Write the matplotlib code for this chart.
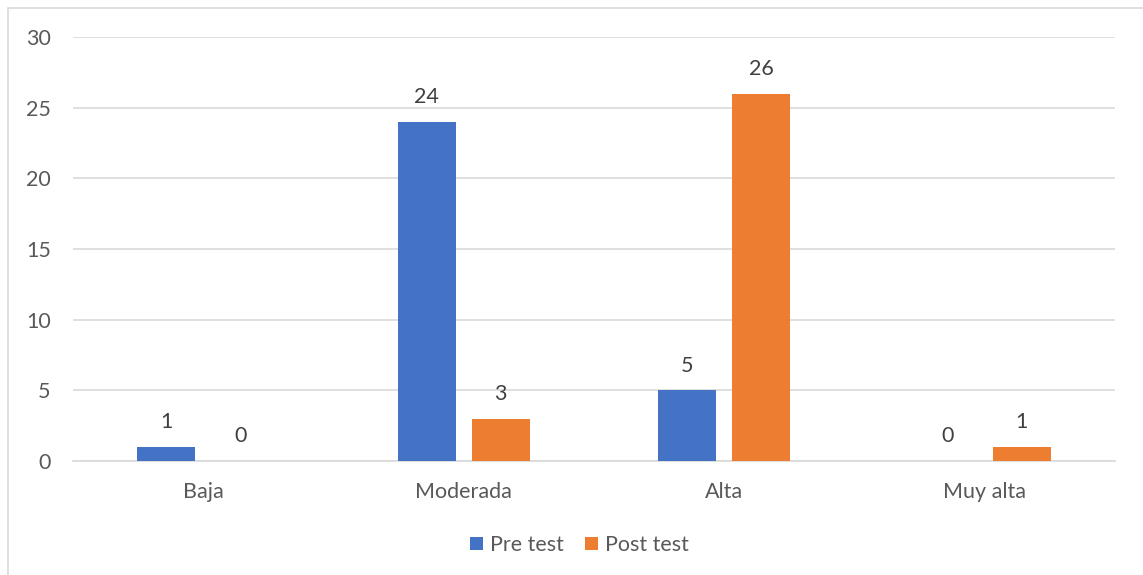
import numpy as np
import matplotlib.pyplot as plt
from matplotlib.patches import Rectangle

categories = ['Baja', 'Moderada', 'Alta', 'Muy alta']
pre_test = [1, 24, 5, 0]
post_test = [0, 3, 26, 1]
yticks = [0, 5, 10, 15, 20, 25, 30]

blue = '#4472C4'
orange = '#ED7D31'
txt = '#595959'

plt.rcParams['font.family'] = ['Lato', 'DejaVu Sans']

fig = plt.figure(figsize=(11.43, 5.75), dpi=100)
ax = fig.add_axes([73 / 1143, 1 - 461 / 575, (1115 - 73) / 1143, (461 - 37) / 575])

# outer chart frame, running off the right and bottom edge
fig.patches.append(Rectangle((8 / 1143, -0.1), 1.2, 1.1 - 8 / 575,
                             transform=fig.transFigure, fill=False,
                             edgecolor='#d9d9d9', linewidth=1.2))

x = np.arange(len(categories))
w = 0.223
off = 0.142
b1 = ax.bar(x - off, pre_test, w, color=blue, label='Pre test', zorder=3)
b2 = ax.bar(x + off, post_test, w, color=orange, label='Post test', zorder=3)

for bars, vals in ((b1, pre_test), (b2, post_test)):
    for r, v in zip(bars, vals):
        ax.text(r.get_x() + r.get_width() / 2, v + 1.75, str(v), ha='center',
                va='center', fontsize=15.5, color='#404040')

ax.set_xlim(-0.5, 3.5)
ax.set_ylim(0, 30)
ax.set_yticks(yticks)
ax.set_xticks(x)
ax.set_xticklabels(categories)
ax.grid(axis='y', color='#d9d9d9', linewidth=1.2, zorder=0)
for s in ['top', 'right', 'left']:
    ax.spines[s].set_visible(False)
ax.spines['bottom'].set_color('#d9d9d9')
ax.spines['bottom'].set_linewidth(1.2)
ax.tick_params(axis='both', length=0, labelsize=15.5, colors=txt)
ax.tick_params(axis='y', pad=16)
ax.tick_params(axis='x', pad=15)

fig.legend(handles=[b1, b2], loc='center', bbox_to_anchor=(0.507, 1 - 545 / 575),
           ncol=2, frameon=False, fontsize=15.5, labelcolor=txt,
           handlelength=0.6, handleheight=0.6, handletextpad=0.3, columnspacing=1.0)

fig.savefig('out.png', dpi=100)
